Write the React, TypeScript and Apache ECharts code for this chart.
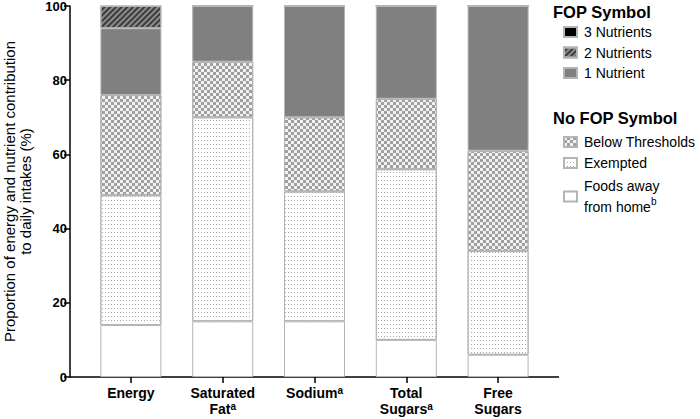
import React, { useEffect, useRef } from "react";
import * as echarts from "echarts";

const categories = ["Energy", "Saturated Fat", "Sodium", "Total Sugars", "Free Sugars"];
const categoryLines = [["Energy"], ["Saturated", "Fat"], ["Sodium"], ["Total", "Sugars"], ["Free", "Sugars"]];
const categorySup = ["", "a", "a", "a", ""];

const foodsAway = [14, 15, 15, 10, 6];
const exempted = [35, 55, 35, 46, 28];
const belowThresholds = [27, 15, 20, 19, 27];
const oneNutrient = [18, 15, 30, 25, 39];
const twoNutrients = [6, 0, 0, 0, 0];
const threeNutrients = [0, 0, 0, 0, 0];

const yTicks = [0, 20, 40, 60, 80, 100];

const FONT = "Liberation Sans, Arial, sans-serif";
const BORDER = "#b4b4b4";

export default function App() {
  const ref = useRef<HTMLDivElement>(null);
  useEffect(() => {
    if (!ref.current) return;
    const chart = echarts.init(ref.current, undefined, { renderer: "svg" });
    const base = {
      type: "bar",
      stack: "total",
      barWidth: 61,
      itemStyle: { borderColor: BORDER, borderWidth: 1 },
    };
    const legendText = { fontFamily: FONT, fontSize: 14, lineHeight: 15, color: "#000", padding: [0, 0, 0, 2] };
    const option: any = {
      animation: false,
      textStyle: { fontFamily: FONT },
      grid: { left: 85, right: 156, top: 6, bottom: 42, containLabel: false, outerBoundsMode: "none" },
      xAxis: {
        type: "category",
        data: categories,
        axisLine: { show: false },
        axisTick: { show: true, alignWithLabel: true, length: 6, lineStyle: { color: "#000", width: 1.5 } },
        axisLabel: {
          margin: 8,
          interval: 0,
          formatter: (v: string) => {
            const i = categories.indexOf(v);
            const lines = categoryLines[i];
            return lines
              .map((l, k) => (k === lines.length - 1 && categorySup[i] ? `{b|${l}}{s|${categorySup[i]}}` : `{b|${l}}`))
              .join("\n");
          },
          rich: {
            b: { fontFamily: FONT, fontWeight: "bold", fontSize: 14, lineHeight: 16, color: "#000" },
            s: { fontFamily: FONT, fontWeight: "bold", fontSize: 10, lineHeight: 16, verticalAlign: "top", color: "#000" },
          },
        },
      },
      yAxis: {
        type: "value",
        min: yTicks[0],
        max: yTicks[yTicks.length - 1],
        interval: 20,
        offset: 15,
        splitLine: { show: false },
        axisLine: { show: true, lineStyle: { color: "#000", width: 1.5 } },
        axisTick: { show: true, length: 6, lineStyle: { color: "#000", width: 1.5 } },
        axisLabel: { fontFamily: FONT, fontWeight: "bold", fontSize: 13, color: "#000", margin: 3 },
        name: "Proportion of energy and nutrient contribution\nto daily intakes (%)",
        nameLocation: "middle",
        nameGap: 37,
        nameTextStyle: { fontFamily: FONT, fontSize: 15, lineHeight: 16, color: "#000" },
      },
      legend: [
        {
          data: ["3 Nutrients", "2 Nutrients", "1 Nutrient"],
          orient: "vertical",
          left: 563,
          top: 24.5,
          padding: 0,
          itemWidth: 13,
          itemHeight: 10,
          itemGap: 5.5,
          icon: "rect",
          selectedMode: false,
          textStyle: legendText,
        },
        {
          data: ["Below Thresholds", "Exempted"],
          orient: "vertical",
          left: 563,
          top: 134.5,
          padding: 0,
          itemWidth: 13,
          itemHeight: 10,
          itemGap: 6,
          icon: "rect",
          selectedMode: false,
          textStyle: legendText,
        },
        {
          data: ["Foods away from home"],
          orient: "vertical",
          left: 563,
          top: 179,
          padding: 0,
          itemWidth: 13,
          itemHeight: 10,
          icon: "rect",
          selectedMode: false,
          formatter: () => "{t|Foods away}\n{t|from home}{s|b}",
          textStyle: {
            fontFamily: FONT,
            fontSize: 14,
            color: "#000",
            padding: [0, 0, 0, 2],
            rich: {
              t: { fontFamily: FONT, fontSize: 14, lineHeight: 21, color: "#000" },
              s: { fontFamily: FONT, fontSize: 10, lineHeight: 21, verticalAlign: "top", color: "#000" },
            },
          },
        },
      ],
      graphic: [
        { type: "line", shape: { x1: 70, y1: 377, x2: 559, y2: 377 }, style: { stroke: "#000", lineWidth: 1.5 } },
        { type: "text", left: 553, top: 3, style: { text: "FOP Symbol", fontFamily: FONT, fontSize: 16.5, fontWeight: "bold", fill: "#000" } },
        { type: "text", left: 553, top: 109, style: { text: "No FOP Symbol", fontFamily: FONT, fontSize: 16.5, fontWeight: "bold", fill: "#000" } },
      ],
      series: [
        { ...base, name: "Foods away from home", data: foodsAway, itemStyle: { ...base.itemStyle, color: "#ffffff" } },
        {
          ...base,
          name: "Exempted",
          data: exempted,
          itemStyle: {
            ...base.itemStyle,
            color: "#ffffff",
            decal: { symbol: "rect", symbolSize: 1, color: "#a8a8a8", dashArrayX: [1, 2], dashArrayY: [1, 2.5], rotation: 0 },
          },
        },
        {
          ...base,
          name: "Below Thresholds",
          data: belowThresholds,
          itemStyle: {
            ...base.itemStyle,
            color: "#f2f2f2",
            decal: { symbol: "rect", symbolSize: 1, color: "#a0a0a0", dashArrayX: [[3, 3], [0, 3, 3, 0]], dashArrayY: [3, 0], rotation: 0 },
          },
        },
        { ...base, name: "1 Nutrient", data: oneNutrient, itemStyle: { ...base.itemStyle, color: "#808080" } },
        {
          ...base,
          name: "2 Nutrients",
          data: twoNutrients,
          itemStyle: {
            ...base.itemStyle,
            color: "#3c3c3c",
            decal: { symbol: "rect", symbolSize: 1, color: "#8c8c8c", dashArrayX: [1, 0], dashArrayY: [1.5, 1.5], rotation: -Math.PI / 4 },
          },
        },
        { ...base, name: "3 Nutrients", data: threeNutrients, itemStyle: { ...base.itemStyle, color: "#000000" } },
      ],
    };
    chart.setOption(option);
    return () => chart.dispose();
  }, []);
  return <div ref={ref} style={{ width: 700, height: 419, position: "absolute", left: 0, top: 0 }} />;
}
